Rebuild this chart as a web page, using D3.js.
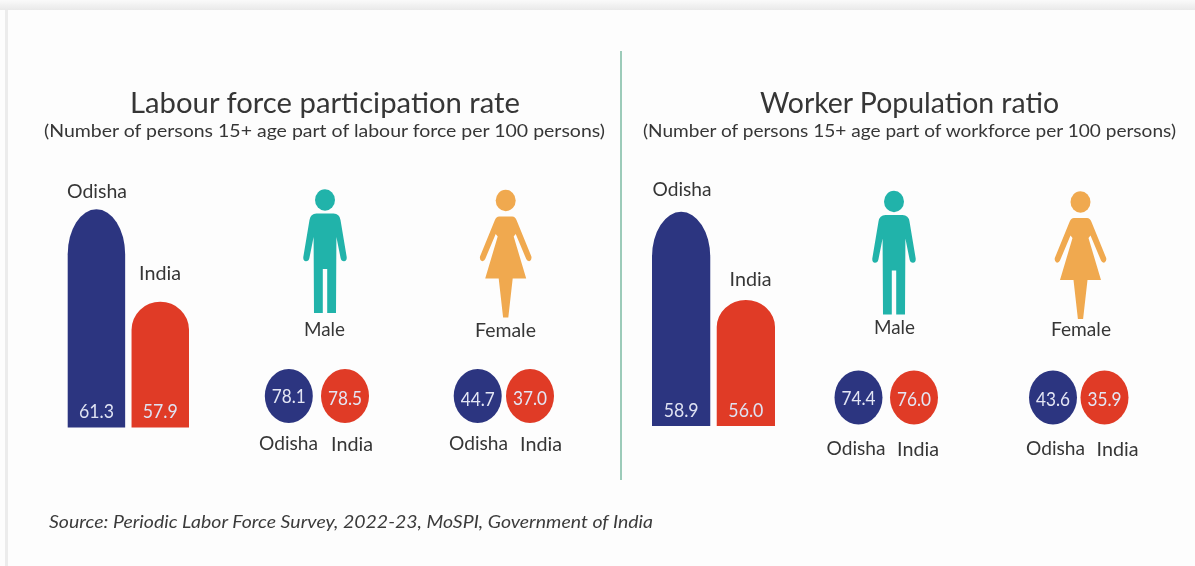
<!DOCTYPE html>
<html>
<head>
<meta charset="utf-8">
<script src="https://cdn.jsdelivr.net/npm/d3@7"></script>
<style>
html,body{margin:0;padding:0;background:#fff;overflow:hidden;}
svg{filter:blur(0.35px);}
text{font-family:Lato,"Noto Sans",sans-serif;fill:#363636;}
</style>
</head>
<body>
<svg id="chart" width="1195" height="566"></svg>
<script>
var regions = ['Odisha','India'];
var panelTitles = ['Labour force participation rate','Worker Population ratio'];
var panelSubtitles = ['(Number of persons 15+ age part of labour force per 100 persons)','(Number of persons 15+ age part of workforce per 100 persons)'];
var lfprOverall = [61.3,57.9];
var lfprMale = [78.1,78.5];
var lfprFemale = [44.7,37.0];
var wprOverall = [58.9,56.0];
var wprMale = [74.4,76.0];
var wprFemale = [43.6,35.9];
var sourceNote = 'Source: Periodic Labor Force Survey, 2022-23, MoSPI, Government of India';

var navy = '#2c3580', red = '#e03b26', teal = '#21b3aa', orange = '#f0a94f';

var svg = d3.select('#chart');
var color = d3.scaleOrdinal().domain(regions).range([navy,red]);

// text fitted to the width it has in the picture, the original face is not installed
function label(x,y,w,size,txt,fill,italic){
    var t = svg.append('text')
        .attr('x',x)
        .attr('y',y)
        .attr('text-anchor','middle')
        .attr('font-size',size)
        .attr('textLength',w)
        .attr('lengthAdjust','spacingAndGlyphs')
        .text(txt);
    if(fill) t.style('fill',fill);
    if(italic) t.attr('font-style','italic');
    return t;
}

// bar with an elliptical top
function arch(x,w,top,bottom,ry){
    return 'M'+x+','+bottom+'V'+(top+ry)+'A'+(w/2)+','+ry+' 0 0 1 '+(x+w)+','+(top+ry)+'V'+bottom+'Z';
}

var manPath = 'M-8.5,13.5L8.5,13.5Q14.5,13.5 15.5,20L21.7,57Q22,61 19,61.2Q16.3,61.2 15.6,58L11.4,37L11,113L2.2,113L2.2,69L-2.2,69L-2.2,113L-11,113L-11.4,37L-15.6,58Q-16.3,61.2 -19,61.2Q-22,61 -21.7,57L-15.5,20Q-14.5,13.5 -8.5,13.5Z';
var womanPath = 'M-6.5,16L6.5,16Q9.5,16 11,20L25.7,56Q26.3,59.5 24,60.6Q21.5,61 20.5,58.5L10,33.5L8,36L20.5,78L7,78L2.6,117L-2.6,117L-7,78L-20.5,78L-8,36L-10,33.5L-20.5,58.5Q-21.5,61 -24,60.6Q-26.3,59.5 -25.7,56L-11,20Q-9.5,16 -6.5,16Z';

function person(cx,cy,path,fill,rx,ry){
    var g = svg.append('g').attr('transform','translate('+cx+','+cy+')');
    g.append('ellipse').attr('rx',rx).attr('ry',ry).attr('fill',fill);
    g.append('path').attr('d',path).attr('fill',fill);
}

function drawBars(values,xRange,bottom,tops,shoulders,nameY,nameBox,valueY){
    var x = d3.scaleBand().domain(regions).range(xRange).paddingInner(0.1);
    // the bars of the original are far from proportional, so the scale runs over the values' own extent
    var y = d3.scaleLinear().domain(d3.extent(values)).range(tops);
    var rows = regions.map((r,i) => ({region:r,value:values[i],i:i}));
    svg.append('g').selectAll('path')
        .data(rows)
        .join('path')
        .attr('d',d => arch(x(d.region),x.bandwidth(),y(d.value),bottom,shoulders[d.i]))
        .attr('fill',d => color(d.region));
    rows.forEach(d => {
        label(x(d.region)+x.bandwidth()/2,valueY,35,19,d.value.toFixed(1),'#dfe2f2');
        label(nameBox[d.i][0],nameY[d.i],nameBox[d.i][1],19,d.region);
    });
}

function drawPair(values,xRange,cy,valueY,nameY,nameX){
    var x = d3.scalePoint().domain(regions).range(xRange);
    var rows = regions.map((r,i) => ({region:r,value:values[i],i:i}));
    svg.append('g').selectAll('ellipse')
        .data(rows)
        .join('ellipse')
        .attr('cx',d => x(d.region))
        .attr('cy',cy)
        .attr('rx',24)
        .attr('ry',27)
        .attr('fill',d => color(d.region));
    rows.forEach(d => {
        label(x(d.region),valueY[d.i],34,19,d.value.toFixed(1),'#e4e6f4');
        label(nameX[d.i],nameY[d.i],d.region=='Odisha'?59:42,19,d.region);
    });
}

// page frame
var shade = svg.append('defs').append('linearGradient').attr('id','topBand').attr('x1',0).attr('x2',0).attr('y1',0).attr('y2',1);
shade.append('stop').attr('offset',0).attr('stop-color','#fafafa');
shade.append('stop').attr('offset',1).attr('stop-color','#e9e9e9');
svg.append('rect').attr('width',1195).attr('height',566).attr('fill','#fdfdfd');
svg.append('rect').attr('x',5).attr('y',10).attr('width',3).attr('height',556).attr('fill','#ececec');
svg.append('rect').attr('width',1195).attr('height',10).attr('fill','url(#topBand)');

svg.append('line').attr('x1',621).attr('x2',621).attr('y1',51).attr('y2',480).attr('stroke','#9ccbb9').attr('stroke-width',2);

label(325,113,390,28,panelTitles[0]);
label(324.5,137,561,18,panelSubtitles[0]);
label(909.5,113,299,28,panelTitles[1]);
label(909.5,137,533,18,panelSubtitles[1]);

drawBars(lfprOverall,[67.7,189],427.5,[301.7,209.3],[45,28],[198,280],[[97,60],[160,42]],418);
drawBars(wprOverall,[652,775],426,[300,211.7],[45,27],[195.7,285.7],[[682,59],[750.5,42]],417);

person(325,200,manPath,teal,10,10.7);
person(505.7,200.5,womanPath,orange,10,10.7);
person(894,201.5,manPath,teal,10,10.7);
person(1080.5,202,womanPath,orange,10,10.7);

label(324.5,335.7,41,19,'Male');
label(505.5,336.7,61,19,'Female');
label(894.5,334,41,19,'Male');
label(1081,335.7,60,19,'Female');

drawPair(lfprMale,[288.8,345],396,[403,405],[450,451],[288.5,352]);
drawPair(lfprFemale,[477.7,530],396,[405.5,405],[450,451],[478.5,541]);
drawPair(wprMale,[858.5,914],397.5,[405,406],[455,456],[856,918]);
drawPair(wprFemale,[1053,1104.5],397.5,[406,406],[455,456],[1055.5,1117.5]);

label(351,528,604,17,sourceNote,'#3b3b3b',true);
</script>
</body>
</html>
